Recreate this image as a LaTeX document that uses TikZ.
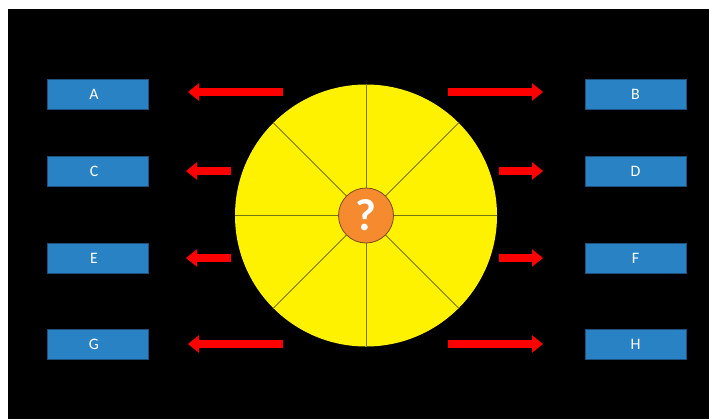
\documentclass[tikz,border=0pt]{standalone}
\usepackage{fontspec}
\setmainfont{Carlito}
\usetikzlibrary{arrows.meta, positioning}

\definecolor{boxblue}{RGB}{40,130,196}
\definecolor{boxline}{RGB}{30,80,125}
\definecolor{pieyellow}{RGB}{255,242,0}
\definecolor{spoke}{RGB}{120,115,20}
\definecolor{qorange}{RGB}{245,138,46}
\definecolor{qline}{RGB}{120,75,30}

\begin{document}
\begin{tikzpicture}[
    x=1bp, y=-1bp,
    box/.style={rectangle, draw=boxline, line width=0.6bp, fill=boxblue,
                minimum width=101bp, minimum height=30bp, inner sep=0pt,
                text=white, font=\fontsize{16}{18}\selectfont},
    leftbox/.style={box, label={[text=white, font=\fontsize{16}{18}\selectfont, xshift=-3.5bp]center:#1}},
    blockarrow/.style={draw=red, line width=8bp,
                -{Triangle[length=11bp, width=17bp]}},
]
\useasboundingbox (0,0) rectangle (709,419);
\fill[white] (0,0) rectangle (709,419);
\fill[black] (8,9) rectangle (709,419);

% Wheel
\node[circle, fill=pieyellow, minimum size=262bp, inner sep=0pt] (pie) at (366,215.5) {};
\foreach \a in {0,45,90,135}
    \draw[spoke, line width=0.8bp] (pie.\a) -- (pie.\a+180);
\node[circle, draw=qline, line width=0.8bp, fill=qorange, minimum size=55bp,
      inner sep=0pt, text=white, font=\fontsize{45}{45}\selectfont\bfseries] (quest) at (pie.center) {?};

% Boxes
\node[leftbox=A] (a) at (97.5,94) {};
\node[leftbox=C] (c) at (97.5,171.5) {};
\node[leftbox=E] (e) at (97.5,258) {};
\node[leftbox=G] (g) at (97.5,344) {};
\node[box] (b) at (635.5,94) {B};
\node[box] (d) at (635.5,171.5) {D};
\node[box] (f) at (635.5,258) {F};
\node[box] (h) at (635.5,344) {H};

% Arrows
\coordinate (la1) at (283,92);  \coordinate (la2) at (188,92);
\coordinate (lc1) at (231,171); \coordinate (lc2) at (186,171);
\coordinate (le1) at (231,258); \coordinate (le2) at (186,258);
\coordinate (lg1) at (283,344); \coordinate (lg2) at (188,344);
\coordinate (rb1) at (448,92);  \coordinate (rb2) at (543,92);
\coordinate (rd1) at (499,171); \coordinate (rd2) at (543,171);
\coordinate (rf1) at (499,258); \coordinate (rf2) at (543,258);
\coordinate (rh1) at (448,344); \coordinate (rh2) at (543,344);
\foreach \n in {la,lc,le,lg,rb,rd,rf,rh}
    \draw[blockarrow] (\n1) -- (\n2);

\end{tikzpicture}
\end{document}
